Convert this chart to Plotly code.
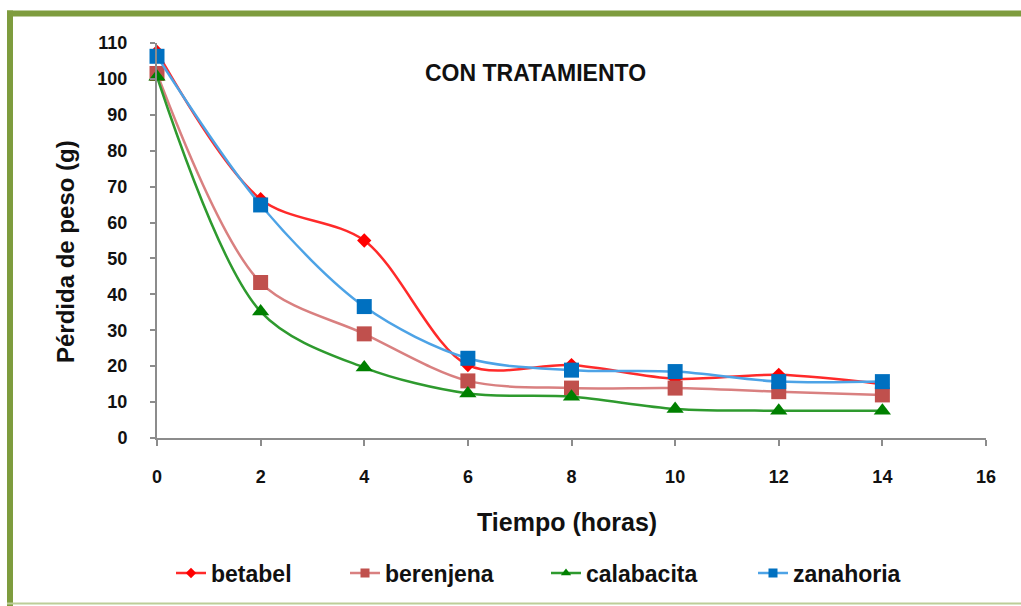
import plotly.graph_objects as go

# Horas de medición
horas = [0, 2, 4, 6, 8, 10, 12, 14]

# Pérdida de peso (g) por hortaliza
betabel = [107.5, 66.5, 55.0, 20.3, 20.3, 16.5, 17.6, 15.0]
berenjena = [101.5, 43.3, 29.0, 15.9, 13.9, 13.9, 12.9, 12.0]
calabacita = [100.6, 35.2, 19.6, 12.4, 11.5, 8.1, 7.6, 7.6]
zanahoria = [106.3, 64.9, 36.6, 22.2, 18.9, 18.5, 15.7, 15.7]

x_ticks = [0, 2, 4, 6, 8, 10, 12, 14, 16]
y_ticks = [0, 10, 20, 30, 40, 50, 60, 70, 80, 90, 100, 110]

W, H = 1021, 606
L, R, T, B = 157, 35, 43, 168
PW, PH = W - L - R, H - T - B


def px(x):
    return (x - L) / PW


def py(y):
    return (H - B - y) / PH


FONT = "Liberation Sans, Arial, sans-serif"
BOLD = dict(family=FONT, color="#111111", weight="bold")

series = [
    ("betabel", betabel, "#FF2A2A", "#FF0000", "diamond", 11, 8),
    ("berenjena", berenjena, "#D98080", "#C0504D", "square", 15, 9),
    ("calabacita", calabacita, "#2E9A2E", "#008000", "triangle-up", 15, 9),
    ("zanahoria", zanahoria, "#4DA3E6", "#0070C0", "square", 15, 9),
]

# left edge of each legend label
legend_text_x = [211, 385, 586, 793]

fig = go.Figure()

for i, (name, vals, lc, mc, sym, ms, lms) in enumerate(series):
    fig.add_trace(go.Scatter(
        x=horas, y=vals, name=name, mode="lines+markers",
        line=dict(color=lc, width=2.5, shape="spline", smoothing=0.9),
        marker=dict(symbol=sym, size=ms, color=mc, line=dict(width=0)),
        showlegend=False, cliponaxis=False,
    ))
    # legend entry with a smaller marker
    lg = "legend" if i == 0 else f"legend{i + 1}"
    fig.add_trace(go.Scatter(
        x=[None], y=[None], name=name, mode="lines+markers",
        line=dict(color=lc, width=2.5),
        marker=dict(symbol=sym, size=lms, color=mc, line=dict(width=0)),
        showlegend=True, legend=lg,
    ))

legend_common = dict(
    orientation="h", yanchor="middle", xanchor="left",
    font=dict(BOLD, size=23),
    bgcolor="rgba(0,0,0,0)", borderwidth=0,
)
layout_legends = {}
for i, tx in enumerate(legend_text_x):
    key = "legend" if i == 0 else f"legend{i + 1}"
    layout_legends[key] = dict(legend_common, x=px(tx - 40), y=py(573))

axis_color = "#8C8C8C"

fig.update_layout(
    width=W, height=H,
    margin=dict(l=L, r=R, t=T, b=B),
    paper_bgcolor="white", plot_bgcolor="white",
    font=dict(family=FONT, color="#111111"),
    xaxis=dict(
        range=[0, 16], tickvals=x_ticks, ticktext=[str(v) for v in x_ticks],
        showgrid=False, zeroline=False, showline=True,
        linecolor=axis_color, linewidth=2,
        ticks="outside", ticklen=6, tickwidth=2, tickcolor=axis_color,
        tickfont=dict(BOLD, size=18),
        ticklabelstandoff=15,
    ),
    yaxis=dict(
        range=[0, 110], tickvals=y_ticks, ticktext=[str(v) for v in y_ticks],
        showgrid=False, zeroline=False, showline=True,
        linecolor=axis_color, linewidth=2,
        ticks="outside", ticklen=5, tickwidth=2, tickcolor=axis_color,
        tickfont=dict(BOLD, size=18),
        ticklabelstandoff=19,
    ),
    **layout_legends,
)

annotations = [
    dict(text="CON TRATAMIENTO", x=px(535), y=py(73), size=23),
    dict(text="Tiempo (horas)", x=px(567), y=py(522), size=25),
    dict(text="Pérdida de peso (g)", x=px(66), y=py(252), size=24, textangle=-90),
]
for a in annotations:
    size = a.pop("size")
    fig.add_annotation(xref="paper", yref="paper", showarrow=False,
                       xanchor="center", yanchor="middle",
                       font=dict(BOLD, size=size), **a)

# green frame around the chart
frame = "#7E9C3E"
fig.add_shape(type="line", xref="paper", yref="paper",
              x0=px(7), x1=px(1030), y0=py(13.5), y1=py(13.5),
              line=dict(color=frame, width=6), layer="above")
fig.add_shape(type="line", xref="paper", yref="paper",
              x0=px(10), x1=px(10), y0=py(10.5), y1=py(606),
              line=dict(color=frame, width=6), layer="above")
fig.add_shape(type="line", xref="paper", yref="paper",
              x0=px(7), x1=px(1030), y0=py(603.5), y1=py(603.5),
              line=dict(color="#BCCE98", width=2), layer="above")

fig.write_html("out.html")
